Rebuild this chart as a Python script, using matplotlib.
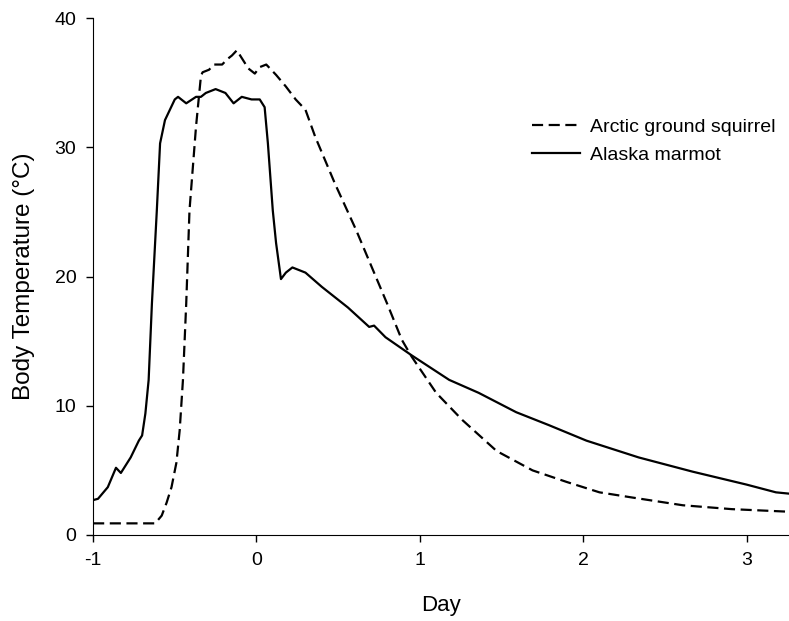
import matplotlib
matplotlib.use("Agg")
import matplotlib.pyplot as plt

plt.rcParams['font.family'] = ['Liberation Sans', 'DejaVu Sans']
plt.rcParams['axes.unicode_minus'] = False

# Alaska marmot (solid line)
marmot_day = [-1.0, -0.97, -0.91, -0.86, -0.83, -0.77, -0.72, -0.70, -0.68, -0.66,
              -0.64, -0.61, -0.59, -0.56, -0.50, -0.48, -0.43, -0.37, -0.34, -0.31,
              -0.25, -0.19, -0.14, -0.09, -0.03, 0.02, 0.05, 0.07, 0.10, 0.12,
              0.15, 0.18, 0.22, 0.30, 0.40, 0.56, 0.69, 0.72, 0.79, 0.95,
              1.18, 1.36, 1.59, 1.79, 2.02, 2.34, 2.67, 3.0, 3.18, 3.26]
marmot_temp = [2.7, 2.8, 3.7, 5.2, 4.8, 6.0, 7.3, 7.7, 9.4, 12.0,
               17.9, 25.1, 30.3, 32.1, 33.7, 33.9, 33.4, 33.9, 33.9, 34.2,
               34.5, 34.2, 33.4, 33.9, 33.7, 33.7, 33.1, 30.3, 25.1, 22.6,
               19.8, 20.3, 20.7, 20.3, 19.2, 17.6, 16.1, 16.2, 15.3, 13.9,
               12.0, 11.0, 9.5, 8.5, 7.3, 6.0, 4.9, 3.9, 3.3, 3.2]

# Arctic ground squirrel (dashed line)
squirrel_day = [-1.0, -0.62, -0.58, -0.55, -0.52, -0.49, -0.47, -0.45, -0.43, -0.41,
                -0.37, -0.34, -0.33, -0.29, -0.26, -0.21, -0.18, -0.15, -0.12, -0.09,
                -0.05, -0.01, 0.02, 0.06, 0.12, 0.18, 0.24, 0.30, 0.36, 0.48,
                0.61, 0.73, 0.80, 0.89, 0.95, 1.10, 1.26, 1.47, 1.69, 1.90,
                2.10, 2.30, 2.61, 2.91, 3.26]
squirrel_temp = [0.9, 0.9, 1.5, 2.5, 3.7, 5.6, 8.1, 12.0, 17.9, 25.1,
                 31.6, 35.5, 35.8, 36.0, 36.4, 36.4, 36.8, 37.1, 37.5, 36.9,
                 36.1, 35.7, 36.2, 36.4, 35.6, 34.7, 33.7, 32.9, 30.8, 27.2,
                 23.6, 20.0, 17.9, 15.1, 13.8, 11.0, 8.9, 6.5, 5.0, 4.1,
                 3.3, 2.9, 2.3, 2.0, 1.8]

x_ticks = [-1, 0, 1, 2, 3]
y_ticks = [0, 10, 20, 30, 40]

fig = plt.figure(figsize=(7.89, 6.21), dpi=100)
ax = fig.add_axes([0.118, 0.1385, 0.882, 0.8325])

ax.plot(squirrel_day, squirrel_temp, color='black', lw=1.6, dashes=(5, 2.5),
        label='Arctic ground squirrel')
ax.plot(marmot_day, marmot_temp, color='black', lw=1.6, label='Alaska marmot')

ax.set_xlim(-1, 3.26)
ax.set_ylim(0, 40)
ax.set_xticks(x_ticks)
ax.set_yticks(y_ticks)
ax.spines['top'].set_visible(False)
ax.spines['right'].set_visible(False)
ax.tick_params(direction='out', length=5, width=1, labelsize=14, pad=7)

ax.set_xlabel('Day', fontsize=16, labelpad=19)
ax.set_ylabel('Body Temperature (°C)', fontsize=17.5, labelpad=14)

ax.legend(loc='upper left', bbox_to_anchor=(0.605, 0.84), frameon=False,
          fontsize=14, handlelength=2.5, handletextpad=0.5, labelspacing=0.55)

fig.savefig('out.png', dpi=100)
